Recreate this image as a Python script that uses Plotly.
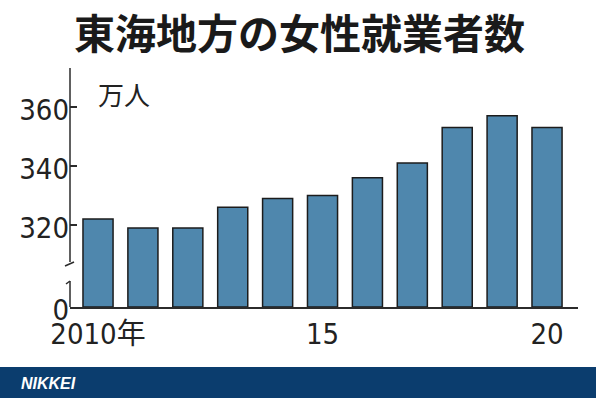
import plotly.graph_objects as go

years = [2010, 2011, 2012, 2013, 2014, 2015, 2016, 2017, 2018, 2019, 2020]
workers = [322, 319, 319, 326, 329, 330, 336, 341, 353, 357, 353]  # 万人
x_tickvals = [2010, 2015, 2020]
x_ticktext = ["2010年", "15", "20"]
y_tickvals = [320, 340, 360]
y_ticktext = ["320", "340", "360"]
title_text = "東海地方の女性就業者数"
unit_text = "万人"

Y_BOTTOM = 292.2   # axis bottom (shown as 0, axis is broken)
Y_TOP = 373.2

NUM_FONT = "Liberation Sans Narrow, DejaVu Sans Condensed, DejaVu Sans, Noto Sans CJK JP, sans-serif"
CJK_FONT = "Noto Sans CJK JP, sans-serif"
AX = "#2b2b2b"

fig = go.Figure()
fig.add_trace(go.Bar(
    x=years,
    y=[v - Y_BOTTOM for v in workers],
    base=Y_BOTTOM,
    width=0.67,
    marker=dict(color="#4f87ad", line=dict(color="#1c1c1c", width=1.5)),
    hoverinfo="skip",
))

fig.update_layout(
    width=596, height=398,
    margin=dict(l=70, r=18, t=68, b=91, autoexpand=False),
    paper_bgcolor="white", plot_bgcolor="white",
    showlegend=False,
    xaxis=dict(
        range=[2009.376, 2020.69], automargin=False,
        tickvals=x_tickvals, ticktext=x_ticktext,
        showline=True, linecolor=AX, linewidth=1.5,
        showgrid=False, zeroline=False, ticks="",
        tickfont=dict(family=NUM_FONT, size=29, color="#222"),
    ),
    yaxis=dict(
        range=[Y_BOTTOM, Y_TOP], automargin=False,
        tickvals=[Y_BOTTOM] + y_tickvals, ticktext=["0"] + y_ticktext,
        showline=False, showgrid=False, zeroline=False,
        ticks="inside", ticklen=7, tickcolor=AX, tickwidth=1.5,
        ticklabelshift=3,
        tickfont=dict(family=NUM_FONT, size=29, color="#222"),
    ),
)

# broken y-axis line
shapes = [
    dict(type="line", xref="paper", yref="paper", x0=0, x1=0,
         y0=(307 - 262) / 239, y1=1.0, line=dict(color=AX, width=1.5)),
    dict(type="line", xref="paper", yref="paper", x0=0, x1=0,
         y0=0, y1=(307 - 281) / 239, line=dict(color=AX, width=1.5)),
    dict(type="line", xref="paper", yref="paper", x0=-5 / 508, x1=4 / 508,
         y0=(307 - 266) / 239, y1=(307 - 262) / 239, line=dict(color=AX, width=1.5)),
    dict(type="line", xref="paper", yref="paper", x0=-4 / 508, x1=0,
         y0=(307 - 284) / 239, y1=(307 - 281) / 239, line=dict(color=AX, width=1.5)),
    # footer band
    dict(type="rect", xref="paper", yref="paper", x0=-70 / 508, x1=(596 - 70) / 508,
         y0=(307 - 398) / 239, y1=(307 - 367) / 239,
         fillcolor="#0b3d6e", line=dict(width=0), layer="above"),
]
fig.update_layout(shapes=shapes)

fig.add_annotation(text=f"<b>{title_text}</b>", xref="paper", yref="paper",
                   x=(299 - 70) / 508, y=(307 - 31) / 239, xanchor="center", yanchor="middle",
                   showarrow=False, font=dict(family=CJK_FONT, size=41, color="#1a1a1a"))
fig.add_annotation(text=unit_text, xref="paper", yref="paper",
                   x=(96 - 70) / 508, y=(307 - 94) / 239, xanchor="left", yanchor="middle",
                   showarrow=False, font=dict(family=CJK_FONT, size=26, color="#222"))
fig.add_annotation(text="<b><i>NIKKEI</i></b>", xref="paper", yref="paper",
                   x=(19 - 70) / 508, y=(307 - 383) / 239, xanchor="left", yanchor="middle",
                   showarrow=False, font=dict(family="Liberation Sans, Arial, sans-serif", size=16, color="white"))

fig.write_html("out.html",
               config={"displayModeBar": False},
               post_script="document.body.style.margin='0';document.body.style.padding='0';document.body.style.overflow='hidden';")
